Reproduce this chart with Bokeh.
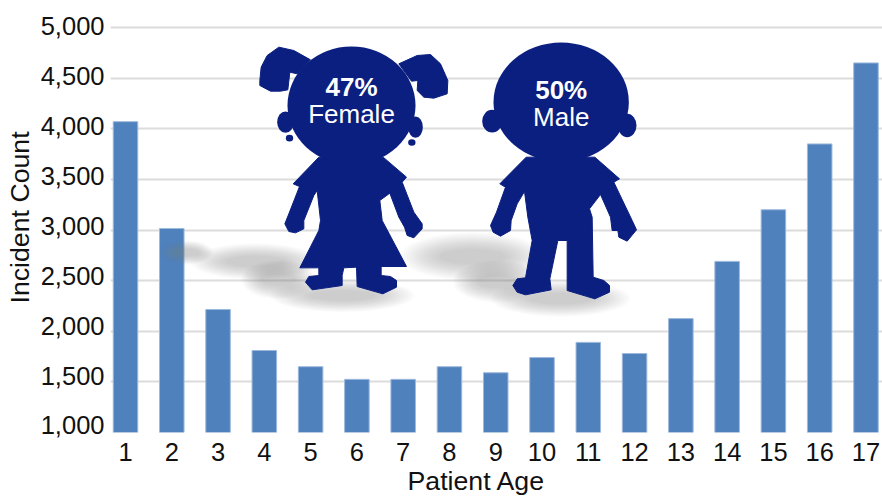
from bokeh.plotting import figure
from bokeh.models import Range1d, FixedTicker, NumeralTickFormatter, LinearAxis, Title
from bokeh.core.properties import value
from bokeh.embed import file_html
from bokeh.resources import INLINE

ages = list(range(1, 18))
counts = [4070, 3015, 2215, 1810, 1650, 1525, 1525, 1650, 1590, 1740, 1890, 1780, 2125, 2690, 3200, 3850, 4650]
y_ticks = [1000, 1500, 2000, 2500, 3000, 3500, 4000, 4500, 5000]
labels = [("47%", "Female"), ("50%", "Male")]
x_title = "Patient Age"
y_title = "Incident Count"

NAVY = "#0B1F80"
FONT = "Liberation Sans"

W, H = 882, 498
L, R, T, B = 110, 882, 25, 432  # frame edges in image pixels

p = figure(width=W, height=H, output_backend="svg", toolbar_location=None,
           x_range=Range1d(0.676, 17.357), y_range=Range1d(1000, 5019.8),
           y_axis_location=None,
           min_border_left=L, min_border_right=0, min_border_top=T, min_border_bottom=H - B)
p.outline_line_color = None
p.background_fill_color = "white"
p.extra_x_ranges = {"px": Range1d(L, R)}
p.extra_y_ranges = {"px": Range1d(B, T), "ticklabels": Range1d(929.8, 5010)}

p.xgrid.visible = False
p.ygrid.grid_line_color = "#DCDCDC"
p.ygrid.grid_line_width = 2
p.ygrid.ticker = FixedTicker(ticks=y_ticks)

yax = LinearAxis(y_range_name="ticklabels", ticker=FixedTicker(ticks=y_ticks),
                 formatter=NumeralTickFormatter(format="0,0"))
p.add_layout(yax, "left")
p.xaxis.ticker = FixedTicker(ticks=ages)
for ax in (p.xaxis[0], yax):
    ax.axis_line_color = None
    ax.major_tick_line_color = None
    ax.minor_tick_line_color = None
    ax.major_label_text_font = FONT
    ax.major_label_text_font_size = "25.5px"
    ax.major_label_text_color = "#111111"
p.xaxis.major_label_standoff = 4
yax.major_label_standoff = 0

p.vbar(x=ages, top=counts, bottom=1000, width=0.53, fill_color="#4F81BD", line_color="#9DB9DC", line_width=1)

# soft shadows, built up from stacked translucent ellipses (image pixel coordinates)
shadows = [(186, 252, 44, 16), (255, 261, 108, 24), (278, 279, 62, 26), (342, 295, 120, 22),
           (472, 256, 120, 32), (497, 281, 74, 28), (560, 298, 116, 24)]
LAYERS = 14
for cx, cy, w, h in shadows:
    for k in range(LAYERS):
        sw = 1.2 - k * 0.05
        sh = 1.5 - k * 0.08
        p.ellipse(x=[cx], y=[cy], width=w * sw, height=h * sh, fill_color="#808080", fill_alpha=0.03,
                  line_color=None, x_range_name="px", y_range_name="px")

def fx(pts): return [250 + a / 3 for a, b in pts]
def fy(pts): return [30 + b / 3 for a, b in pts]
def mx(pts): return [410 + a / 3 for a, b in pts]
def my(pts): return [30 + b / 3 for a, b in pts]

f_pig_l = [(28,150),(32,110),(50,75),(85,50),(130,60),(180,88),(140,130),(118,125),(112,178),(90,182),(60,182),(28,165)]
f_pig_r = [(445,100),(500,75),(540,72),(570,100),(592,150),(590,190),(550,203),(520,200),(500,180),(502,150),(483,152)]
f_body = [(205,380),(128,460),(147,468),(115,550),(103,580),(115,603),(135,607),(160,595),(160,570),(170,545),(190,495),(200,480),
          (210,570),(205,600),(148,712),(205,712),(205,735),(175,738),(165,755),(185,778),(275,765),(275,735),(280,712),(318,710),
          (320,768),(397,790),(438,770),(438,750),(420,738),(392,735),(392,708),(468,708),(395,570),(388,510),(418,488),(445,560),
          (462,590),(470,615),(490,622),(515,595),(515,580),(490,545),(455,455),(468,440),(398,380)]
m_body = [(347,380),(268,460),(285,470),(258,545),(240,585),(248,605),(270,617),(300,600),(302,570),(320,520),(342,483),(352,560),
          (365,630),(345,742),(320,745),(307,765),(320,785),(345,793),(422,778),(418,745),(442,630),(470,630),(470,780),(553,805),
          (597,785),(597,765),(580,750),(548,740),(545,560),(537,535),(570,492),(600,560),(605,600),(622,600),(625,620),(650,632),
          (678,598),(665,570),(610,455),(627,445),(553,380)]

for pts in (f_pig_l, f_pig_r, f_body):
    p.patch(fx(pts), fy(pts), fill_color=NAVY, line_color=NAVY, line_width=1, x_range_name="px", y_range_name="px")
p.patch(mx(m_body), my(m_body), fill_color=NAVY, line_color=NAVY, line_width=1, x_range_name="px", y_range_name="px")

ells = [(250+303/3, 30+225/3, 384/3, 354/3), (250+105/3, 30+275/3, 50/3, 64/3), (250+495/3, 30+290/3, 44/3, 64/3),
        (250+117/3, 30+323/3, 22/3, 20/3), (250+484/3, 30+336/3, 22/3, 20/3),
        (410+452/3, 30+215/3, 406/3, 358/3), (410+245/3, 30+272/3, 60/3, 68/3), (410+650/3, 30+285/3, 56/3, 70/3)]
for cx, cy, w, h in ells:
    p.ellipse(x=[cx], y=[cy], width=w, height=h, fill_color=NAVY, line_color=None, x_range_name="px", y_range_name="px")

def lab(x, y, t, style):
    p.text(x=[x], y=[y], text=[t], text_color="white", text_font=value(FONT), text_font_size="26px",
           text_font_style=style, text_align="center", text_baseline="middle", x_range_name="px", y_range_name="px")

lab(351, 86, labels[0][0], "bold")
lab(351, 113.5, labels[0][1], "normal")
lab(560.7, 89.3, labels[1][0], "bold")
lab(560.7, 116, labels[1][1], "normal")

p.add_layout(Title(text=x_title, align="left", offset=407 - L, standoff=0, text_font=FONT, text_font_style="normal",
                   text_font_size="26.7px", text_color="#111111"), "below")
p.add_layout(Title(text=y_title, align="left", offset=B - 303, standoff=5, text_font=FONT, text_font_style="normal",
                   text_font_size="26.7px", text_color="#111111"), "left")

open("out.html", "w").write(file_html(p, INLINE))
